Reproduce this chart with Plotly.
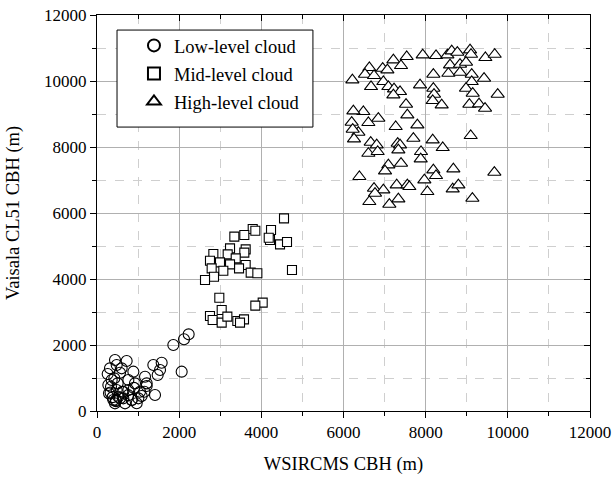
import plotly.graph_objects as go

# Low-level cloud (WSIRCMS CBH, Vaisala CL51 CBH), metres
low_x = [722, 479, 316, 260, 600, 422, 503, 341, 292, 398, 438, 641, 641, 844, 1006,
         925, 1169, 1209, 1152, 1412, 1371, 1574, 1477, 1534, 885, 763, 560, 357, 763,
         276, 479, 519, 682, 1047, 1209, 438, 330, 380, 460, 560, 760, 900, 1087, 966,
         845, 616, 462, 1858, 2118, 2231, 2061]
low_y = [1515, 1394, 1293, 1121, 1293, 990, 838, 737, 535, 333, 232, 585, 384, 333, 384,
         838, 1040, 757, 585, 485, 1394, 1464, 1091, 1242, 1192, 939, 1161, 939, 636,
         787, 636, 434, 232, 585, 838, 1545, 560, 420, 300, 390, 480, 700, 455, 233,
         333, 585, 333, 2000, 2172, 2323, 1192]

# Mid-level cloud
mid_x = [4552, 3790, 3854, 3586, 3343, 4236, 4211, 4455, 4625, 3238, 3619, 3586, 3181,
         2832, 2750, 2994, 3376, 3619, 3457, 3238, 3075, 2791, 2848, 2629, 3741, 3903,
         4746, 2977, 4033, 3854, 2750, 3035, 2815, 3035, 3173, 3416, 3578, 3481, 4180]
mid_y = [5838, 5515, 5464, 5333, 5283, 5485, 5182, 5050, 5121, 4929, 4899, 4798, 4747,
         4758, 4555, 4505, 4626, 4424, 4323, 4444, 4252, 4323, 4070, 3970, 4192, 4172,
         4273, 3434, 3283, 3192, 2879, 3061, 2758, 2677, 2859, 2727, 2778, 2677, 5250]

# High-level cloud
high_x = [6216, 6629, 6524, 6743, 6670, 6954, 7068, 7214, 7400, 7538, 6970, 7092, 7230,
          7376, 7214, 7522, 7863, 7928, 8252, 8528, 8634, 8771, 9080, 9104, 9453, 9680,
          8593, 8836, 8982, 8553, 8836, 9121, 8187, 9121, 9421, 8982, 9145, 9753, 8187,
          8203, 8171, 8390, 9064, 9299, 9445, 7554, 6848, 6483, 6240, 6199, 6605, 6362,
          6256, 6224, 7270, 7798, 7701, 8171, 8415, 9096, 7319, 7376, 6662, 6808, 6605,
          6832, 7335, 7887, 7879, 7092, 7400, 7011, 8187, 8674, 6386, 7968, 8252, 9672,
          7295, 7554, 7603, 6743, 6970, 8658, 8796, 8041, 6767, 6629, 7116, 7335, 9137]
high_y = [10030, 10404, 10202, 10162, 9828, 10384, 10333, 10636, 10465, 10737, 9980, 9828,
          9758, 9677, 9576, 9293, 9879, 10788, 10768, 10788, 10909, 10869, 10939, 10808,
          10707, 10808, 10485, 10505, 10566, 10232, 10263, 10202, 10202, 9980, 10081, 9778,
          9627, 9596, 9778, 9596, 9404, 9273, 9293, 9303, 9172, 8970, 8869, 9071, 9091,
          8748, 8738, 8445, 8243, 8536, 8617, 8667, 8263, 8213, 7980, 8344, 8112, 8061,
          8142, 8061, 7808, 7859, 7909, 7859, 7637, 7455, 7506, 7273, 7304, 7334, 7102,
          7001, 7132, 7233, 6849, 6849, 6798, 6748, 6698, 6728, 6849, 6647, 6597, 6344,
          6263, 6425, 6445]

names = ["Low-level cloud", "Mid-level cloud", "High-level cloud"]
tickvals = [0, 2000, 4000, 6000, 8000, 10000, 12000]
ticktext = ["0", "2000", "4000", "6000", "8000", "10000", "12000"]

FONT = "Liberation Serif, Times New Roman, serif"
fig = go.Figure()
fig.add_trace(go.Scatter(x=low_x, y=low_y, mode="markers", name=names[0], legendgroup="a",
                         marker=dict(symbol="circle-open", size=11, color="black",
                                     line=dict(width=1.1, color="black"))))
fig.add_trace(go.Scatter(x=mid_x, y=mid_y, mode="markers", name=names[1], legendgroup="b",
                         marker=dict(symbol="square", size=9, color="white",
                                     line=dict(width=1.1, color="black"))))
fig.add_trace(go.Scatter(x=high_x, y=high_y, mode="markers", name=names[2], legendgroup="c",
                         marker=dict(symbol="triangle-up", size=11.5, color="white",
                                     line=dict(width=1.1, color="black"))))
# helper (empty) trace so the mirrored top/right axes are drawn
fig.add_trace(go.Scatter(x=[], y=[], xaxis="x2", yaxis="y2", showlegend=False))

axis_common = dict(range=[0, 12000], tickvals=tickvals, ticktext=ticktext, showline=True,
                   linecolor="black", linewidth=1, zeroline=False, automargin=False,
                   ticklabeloverflow="allow")

fig.update_layout(
    width=614, height=478,
    margin=dict(l=97, r=24, t=15, b=67),
    paper_bgcolor="white", plot_bgcolor="white",
    font=dict(family=FONT, size=17, color="black"),
    xaxis=dict(**axis_common, ticks="outside", ticklen=6, tickcolor="black",
               showgrid=True, gridcolor="#b0b0b0", gridwidth=1,
               minor=dict(dtick=1000, ticks="outside", ticklen=4, tickcolor="black",
                          showgrid=True, gridcolor="#cfcfcf", griddash="dash"),
               tickfont=dict(size=17, family=FONT),
               title=dict(text="WSIRCMS CBH (m)", font=dict(size=18.5, family=FONT), standoff=15)),
    yaxis=dict(**axis_common, ticks="outside", ticklen=6, tickcolor="black",
               showgrid=True, gridcolor="#b0b0b0", gridwidth=1,
               minor=dict(dtick=1000, ticks="outside", ticklen=4, tickcolor="black",
                          showgrid=True, gridcolor="#cfcfcf", griddash="dash"),
               tickfont=dict(size=17, family=FONT),
               title=dict(text="Vaisala CL51 CBH (m)", font=dict(size=18.5, family=FONT), standoff=19)),
    xaxis2=dict(**axis_common, overlaying="x", side="top", ticks="inside", ticklen=6,
                tickcolor="black", showticklabels=False, showgrid=False,
                minor=dict(dtick=1000, ticks="inside", ticklen=4, tickcolor="black")),
    yaxis2=dict(**axis_common, overlaying="y", side="right", ticks="inside", ticklen=6,
                tickcolor="black", showticklabels=False, showgrid=False,
                minor=dict(dtick=1000, ticks="inside", ticklen=4, tickcolor="black")),
    shapes=[dict(type="rect", xref="paper", yref="paper", x0=0.0406, x1=0.438,
                 y0=0.717, y1=0.962, line=dict(color="black", width=1),
                 fillcolor="white", layer="above")],
    legend=dict(x=0.075, y=0.970, xanchor="left", yanchor="top", bgcolor="rgba(0,0,0,0)",
                borderwidth=0, font=dict(size=18.5, family=FONT),
                tracegroupgap=1, itemsizing="constant"),
    showlegend=True,
)

fig.write_html("out.html", config={"displayModeBar": False},
               post_script="document.body.style.margin='0';")
